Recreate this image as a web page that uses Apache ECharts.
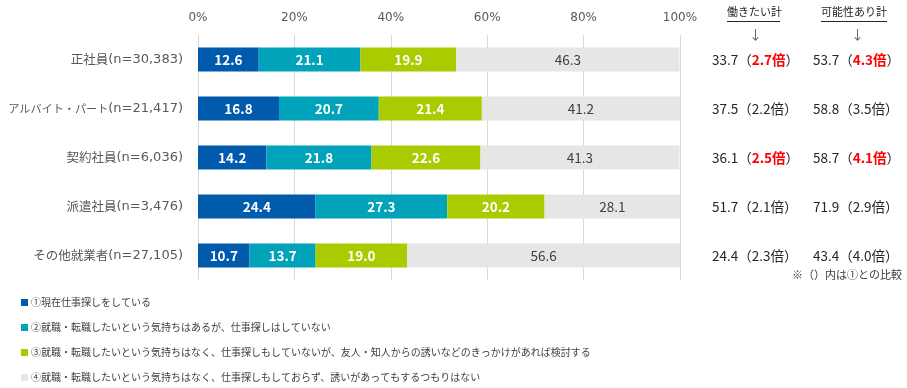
<!DOCTYPE html>
<html><head><meta charset="utf-8">
<script src="https://cdn.jsdelivr.net/npm/echarts@6/dist/echarts.min.js"></script>
<style>html,body{margin:0;padding:0;background:#fff}#c{width:907px;height:388px}</style>
</head><body><div id="c"></div>
<script>
var categories = ["正社員(n=30,383)","アルバイト・パート(n=21,417)","契約社員(n=6,036)","派遣社員(n=3,476)","その他就業者(n=27,105)"];
var seriesNames = ["①現在仕事探しをしている","②就職・転職したいという気持ちはあるが、仕事探しはしていない","③就職・転職したいという気持ちはなく、仕事探しもしていないが、友人・知人からの誘いなどのきっかけがあれば検討する","④就職・転職したいという気持ちはなく、仕事探しもしておらず、誘いがあってもするつもりはない"];
var s1 = [12.6,16.8,14.2,24.4,10.7];
var s2 = [21.1,20.7,21.8,27.3,13.7];
var s3 = [19.9,21.4,22.6,20.2,19.0];
var s4 = [46.3,41.2,41.3,28.1,56.6];
var workTotal = ["33.7","37.5","36.1","51.7","24.4"];
var workRatio = ["2.7","2.2","2.5","2.1","2.3"];
var workRed = [true,false,true,false,false];
var possTotal = ["53.7","58.8","58.7","71.9","43.4"];
var possRatio = ["4.3","3.5","4.1","2.9","4.0"];
var possRed = [true,false,true,false,false];

var FONT = '"Noto Sans CJK JP", "Noto Sans", sans-serif';
var LFONT = '"DejaVu Sans", "Noto Sans CJK JP", sans-serif';
var colors = ["#005BAC","#00A3B9","#AACB00","#E6E6E6"];
var chart = echarts.init(document.getElementById('c'));

function rightFmt(tot, ratio, red) {
  return function(v, i) {
    var r = red[i] ? '{r|' + ratio[i] + '倍}' : '{n|' + ratio[i] + '倍}';
    return '{n|' + tot[i] + '（}' + r + '{n|）}';
  };
}
var richR = {
  n: {fontFamily: FONT, fontSize: 13.5, color: '#262626'},
  r: {fontFamily: FONT, fontSize: 13.5, color: '#FF0000', fontWeight: 'bold'}
};

// category labels: CJK part + latin part
var richL = {
  l: {fontFamily: '"DejaVu Sans", sans-serif', fontSize: 13, color: '#595959'}
};
function catFmt(v) {
  var k = v.indexOf('(');
  var cjk = v.slice(0, k), lat = v.slice(k);
  var fs = Math.min(12.5, 100 / cjk.length);
  var key = 'c' + Math.round(fs * 10);
  if (!richL[key]) richL[key] = {fontFamily: FONT, fontSize: fs, color: '#595959'};
  return '{' + key + '|' + cjk + '}{l|' + lat + '}';
}
categories.forEach(catFmt);

var data = [s1,s2,s3,s4];
var series = data.map(function(d, k) {
  return {
    name: seriesNames[k], type: 'bar', stack: 'a', data: d, barWidth: 24,
    itemStyle: {color: colors[k]},
    label: {show: true, position: 'inside', formatter: function(p){return p.value.toFixed(1);},
      color: k < 3 ? '#fff' : '#404040', fontWeight: k < 3 ? 'bold' : 'normal',
      fontFamily: FONT, fontSize: 13.5}
  };
});

chart.setOption({
  animation: false,
  textStyle: {fontFamily: FONT},
  grid: {left: 198, right: 227, top: 35, bottom: 108, outerBoundsMode: 'none', containLabel: false},
  xAxis: {type: 'value', position: 'top', min: 0, max: 100, interval: 20,
    axisLabel: {formatter: '{value}%', color: '#595959', fontSize: 12, margin: 11, fontFamily: LFONT},
    splitLine: {lineStyle: {color: '#D9D9D9'}}, axisLine: {show: false}, axisTick: {show: false}},
  yAxis: [
    {type: 'category', data: categories, inverse: true,
      axisLine: {show: false}, axisTick: {show: false},
      axisLabel: {margin: 15, formatter: catFmt, rich: richL}},
    {type: 'category', data: categories, inverse: true, position: 'right', offset: 0,
      axisLine: {show: false}, axisTick: {show: false},
      axisLabel: {align: 'left', margin: 32, formatter: rightFmt(workTotal, workRatio, workRed), rich: richR}},
    {type: 'category', data: categories, inverse: true, position: 'right', offset: 101,
      axisLine: {show: false}, axisTick: {show: false},
      axisLabel: {align: 'left', margin: 32, formatter: rightFmt(possTotal, possRatio, possRed), rich: richR}}
  ],
  legend: {orient: 'vertical', left: 21, top: 296, padding: 0, itemWidth: 7, itemHeight: 7, itemGap: 12,
    icon: 'rect', textStyle: {color: '#404040', fontSize: 10, lineHeight: 13, fontFamily: FONT, padding: [0, 0, 0, -2]},
    data: seriesNames},
  graphic: [
    {type: 'text', left: 727, top: 6, style: {text: '働きたい計', fontSize: 11, fill: '#262626', fontFamily: FONT}},
    {type: 'line', shape: {x1: 727, y1: 21.5, x2: 780, y2: 21.5}, style: {stroke: '#262626', lineWidth: 1}},
    {type: 'text', left: 821, top: 6, style: {text: '可能性あり計', fontSize: 11, fill: '#262626', fontFamily: FONT}},
    {type: 'line', shape: {x1: 821, y1: 21.5, x2: 887, y2: 21.5}, style: {stroke: '#262626', lineWidth: 1}},
    {type: 'text', left: 749, top: 28, style: {text: '↓', fontSize: 13, fill: '#595959', fontFamily: FONT}},
    {type: 'text', left: 851, top: 28, style: {text: '↓', fontSize: 13, fill: '#595959', fontFamily: FONT}},
    {type: 'text', left: 792, top: 269, style: {text: '※（）内は①との比較', fontSize: 11, fill: '#404040', fontFamily: FONT}}
  ],
  series: series
});
</script></body></html>
